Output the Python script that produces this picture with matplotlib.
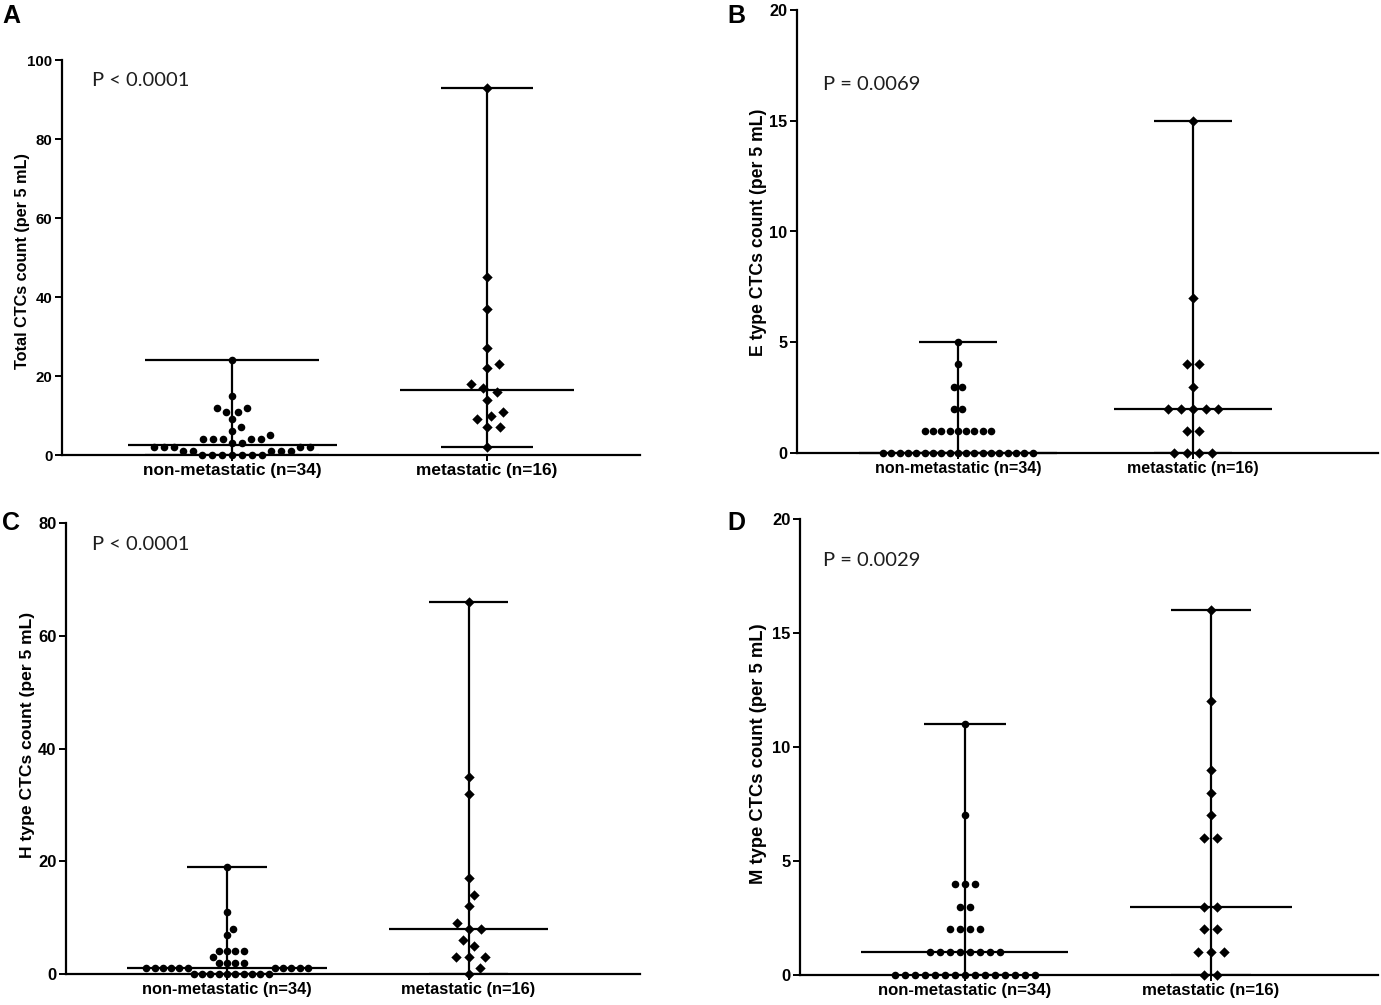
import numpy as np
import matplotlib
matplotlib.use("Agg")
import matplotlib.pyplot as plt

W, H, DPI = 1381, 1005, 100

groups = ["non-metastatic (n=34)", "metastatic (n=16)"]

# CTC counts per patient
total_nonmet = [0, 0, 0, 0, 0, 0, 0, 1, 1, 1, 1, 1, 2, 2, 2, 2, 2, 3, 3,
                4, 4, 4, 4, 4, 5, 6, 7, 9, 11, 11, 12, 12, 15, 24]
total_met = [2, 7, 7, 9, 10, 11, 14, 16, 17, 18, 22, 23, 27, 37, 45, 93]

etype_nonmet = [0, 0, 0, 0, 0, 0, 0, 0, 0, 0, 0, 0, 0, 0, 0, 0, 0, 0, 0,
                1, 1, 1, 1, 1, 1, 1, 1, 1, 2, 2, 3, 3, 4, 5]
etype_met = [0, 0, 0, 0, 1, 1, 2, 2, 2, 2, 2, 3, 4, 4, 7, 15]

htype_nonmet = [0, 0, 0, 0, 0, 0, 0, 0, 0, 0, 1, 1, 1, 1, 1, 1, 1, 1, 1, 1, 1,
                2, 2, 2, 2, 3, 4, 4, 4, 4, 7, 8, 11, 19]
htype_met = [0, 1, 3, 3, 3, 5, 6, 8, 8, 9, 12, 14, 17, 32, 35, 66]

mtype_nonmet = [0, 0, 0, 0, 0, 0, 0, 0, 0, 0, 0, 0, 0, 0, 0,
                1, 1, 1, 1, 1, 1, 1, 1, 2, 2, 2, 2, 3, 3, 4, 4, 4, 7, 11]
mtype_met = [0, 0, 1, 1, 1, 2, 2, 3, 3, 6, 6, 7, 8, 9, 12, 16]

ylabels = ["Total CTCs count (per 5 mL)", "E type CTCs count (per 5 mL)",
           "H type CTCs count (per 5 mL)", "M type CTCs count (per 5 mL)"]
pvalues = ["P < 0.0001", "P = 0.0069", "P < 0.0001", "P = 0.0029"]
letters = ["A", "B", "C", "D"]
yticks = [[0, 20, 40, 60, 80, 100], [0, 5, 10, 15, 20],
          [0, 20, 40, 60, 80], [0, 5, 10, 15, 20]]
data = [(total_nonmet, total_met), (etype_nonmet, etype_met),
        (htype_nonmet, htype_met), (mtype_nonmet, mtype_met)]

# layout in pixels: left, right, top, bottom of the plotting box
boxes = [(62, 640, 60, 455), (797, 1378, 10, 453),
         (66, 640, 523, 974), (800, 1378, 519, 975)]
xlims = [(0.333, 2.60), (0.316, 2.786), (0.333, 2.71), (0.33, 2.68)]
# half widths: nonmet median, nonmet caps, met median, met caps
halfw = [(0.41, 0.34, 0.34, 0.18), (0.42, 0.165, 0.335, 0.165),
         (0.415, 0.165, 0.33, 0.165), (0.42, 0.167, 0.33, 0.163)]
spacing = [(10, 12.5), (8.3, 12.5), (8.3, 12.5), (10, 13)]
ylab_xy = [(-0.055, 0.491), (-0.052, 0.499), (-0.054, 0.53), (-0.057, 0.485)]
xtick_size = [12.4, 11.5, 11.8, 12.1]
ytick_size = [10.8, 11.7, 11.9, 11.9]
ylab_size = [11.7, 12.7, 12.6, 13.2]
ptxt = [(92, 80), (823, 85), (92, 545), (823, 560)]
letter_pos = [(11, 16), (736, 16), (11, 523), (736, 523)]


def swarm(vals, ypx, d):
    """Greedy beeswarm, offsets in pixels."""
    vals = np.asarray(vals, float)
    ys = vals * ypx
    order = np.argsort(vals, kind="stable")
    xs = np.zeros(len(vals))
    placed = []
    for i in order:
        y = ys[i]
        near = [j for j in placed if abs(ys[j] - y) < d]
        cands = [0.0]
        for j in near:
            w = np.sqrt(d * d - (ys[j] - y) ** 2)
            cands += [xs[j] - w, xs[j] + w]
        ok = [c for c in cands
              if all((c - xs[j]) ** 2 + (y - ys[j]) ** 2 >= d * d - 1e-6 for j in near)]
        xs[i] = min(ok, key=lambda c: (round(abs(c), 3), -c))
        placed.append(i)
    # centre rows of equal values when there is room
    for v in np.unique(vals):
        idx = np.where(vals == v)[0]
        k = len(idx)
        sym = (np.arange(k) - (k - 1) / 2) * d
        others = np.where(vals != v)[0]
        clash = any((sx - xs[j]) ** 2 + (ys[idx[0]] - ys[j]) ** 2 < d * d
                    for sx in sym for j in others)
        if not clash:
            xs[idx] = sym
    return xs


fig = plt.figure(figsize=(W / DPI, H / DPI), dpi=DPI)

for p in range(4):
    l, r, t, b = boxes[p]
    ax = fig.add_axes([l / W, 1 - b / H, (r - l) / W, (b - t) / H])
    ax.set_xlim(*xlims[p])
    ax.set_ylim(0, yticks[p][-1])
    xpx = (r - l) / (xlims[p][1] - xlims[p][0])
    ypx = (b - t) / yticks[p][-1]

    for g, vals in enumerate(data[p]):
        vals = np.asarray(vals, float)
        cx = g + 1
        med = np.median(vals)
        mw = halfw[p][2 * g]
        cw = halfw[p][2 * g + 1]
        ax.plot([cx - mw, cx + mw], [med, med], color="black", lw=1.6, zorder=2,
                clip_on=False, solid_capstyle="butt")
        ax.plot([cx - cw, cx + cw], [vals.max()] * 2, color="black", lw=1.6, zorder=2,
                solid_capstyle="butt")
        ax.plot([cx - cw, cx + cw], [vals.min()] * 2, color="black", lw=1.6, zorder=2,
                solid_capstyle="butt")
        ax.plot([cx, cx], [vals.min(), vals.max()], color="black", lw=1.6, zorder=2)
        offs = swarm(vals, ypx, spacing[p][g]) / xpx
        if g == 0:
            ax.scatter(cx + offs, vals, s=30, marker="o", color="black",
                       linewidths=0, zorder=3, clip_on=False)
        else:
            ax.scatter(cx + offs, vals, s=28, marker="D", color="black",
                       linewidths=0, zorder=3, clip_on=False)

    for side in ("top", "right"):
        ax.spines[side].set_visible(False)
    for side in ("left", "bottom"):
        ax.spines[side].set_linewidth(1.6)
    ax.set_yticks(yticks[p])
    ax.set_xticks([1, 2])
    ax.set_xticklabels(groups)
    ax.tick_params(axis="y", direction="out", length=5, width=1.4, pad=2)
    ax.tick_params(axis="x", direction="out", length=4, width=1.4, pad=2)
    for lab in ax.get_yticklabels():
        lab.set_fontfamily("Liberation Sans")
        lab.set_fontweight("bold")
        lab.set_fontsize(ytick_size[p])
    for lab in ax.get_xticklabels():
        lab.set_fontfamily("Liberation Sans")
        lab.set_fontweight("bold")
        lab.set_fontsize(xtick_size[p])
    ax.set_ylabel(ylabels[p], family="Liberation Sans", weight="bold",
                  size=ylab_size[p])
    ax.yaxis.set_label_coords(*ylab_xy[p])

    px, py = ptxt[p]
    fig.text(px / W, 1 - py / H, pvalues[p], family="Lato", size=14.5,
             color="#1e1e1e", ha="left", va="center")
    lx, ly = letter_pos[p]
    fig.text(lx / W, 1 - ly / H, letters[p], family="Liberation Sans",
             weight="bold", size=18, ha="center", va="center")

fig.savefig("out.png", dpi=DPI)
